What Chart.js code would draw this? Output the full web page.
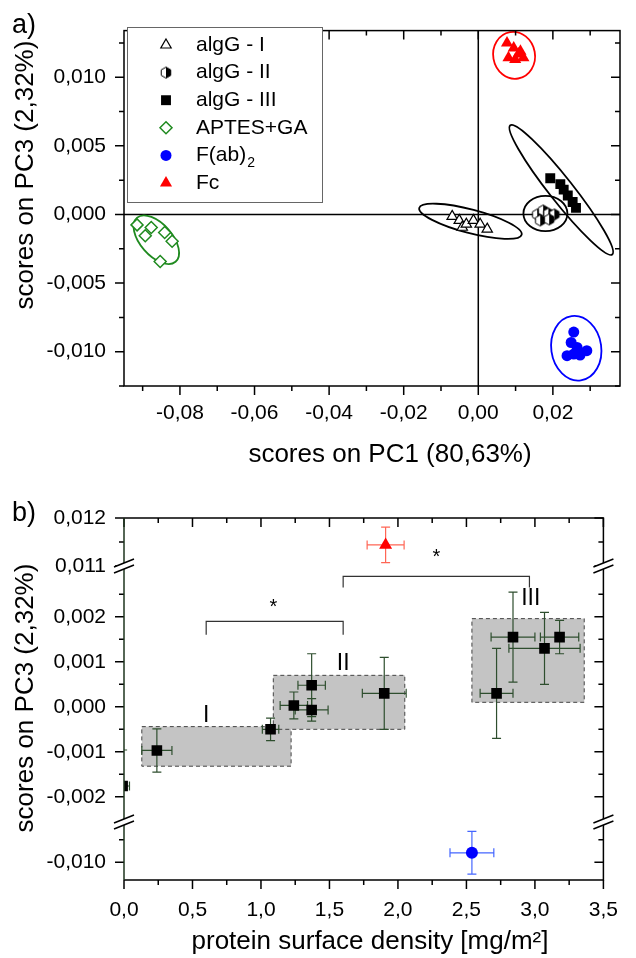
<!DOCTYPE html>
<html>
<head>
<meta charset="utf-8">
<script src="https://cdn.jsdelivr.net/npm/chart.js@4.4.0/dist/chart.umd.min.js"></script>
<style>
  body { margin: 0; background: #fff; }
  #wrap { position: relative; width: 636px; height: 958px; }
  canvas { position: absolute; left: 0; }
  #pca { top: 0; }
  #dens { top: 480px; }
</style>
</head>
<body>
<div id="wrap">
  <canvas id="pca" width="636" height="480"></canvas>
  <canvas id="dens" width="636" height="478"></canvas>
</div>
<script>
// ---- a) PCA scores, PC1 vs PC3 ----
const algG1X = [-0.0070, -0.0051, -0.0043, -0.0032, -0.0013, 0.0005, 0.0024];
const algG1Y = [-0.00014, -0.00043, -0.00093, -0.00071, -0.00043, -0.00071, -0.00107];
const algG2X = [0.0158, 0.0174, 0.0188, 0.0204, 0.0166, 0.0190];
const algG2Y = [0.0000, 0.00029, 0.00007, 0.0000, -0.00043, -0.00036];
const algG3X = [0.0193, 0.0220, 0.0229, 0.0240, 0.0253, 0.0262];
const algG3Y = [0.00264, 0.00221, 0.00181, 0.00138, 0.00091, 0.00048];
const aptesX = [-0.0915, -0.0877, -0.0893, -0.0841, -0.0821, -0.0853];
const aptesY = [-0.00076, -0.00095, -0.00155, -0.00131, -0.00195, -0.00343];
const fabX = [0.0256, 0.0249, 0.0265, 0.0291, 0.0238, 0.0273, 0.0256];
const fabY = [-0.00857, -0.00933, -0.00969, -0.00993, -0.01029, -0.01024, -0.01017];
const fcX = [0.0077, 0.0095, 0.0108, 0.0081, 0.0099, 0.0121, 0.0113];
const fcY = [0.01250, 0.01214, 0.0117, 0.01142, 0.0113, 0.01142, 0.0119];

// confidence ellipses: centre x, centre y, half-axis u (dx, dy), half-axis v (dx, dy)
const ellI = [-0.0021, -0.0005, 0.01373, -0.00098, -0.00083, -0.00083];
const ellII = [0.0180, 0.00007, 0.0059, 0, 0, 0.00129];
const ellIII = [0.02225, 0.00179, 0.01367, -0.00471, 0.00255, 0.00052];
const ellAptes = [-0.08633, -0.00184, 0.00515, -0.00161, 0.00327, 0.00074];
const ellFab = [0.02627, -0.00975, 0.00664, 0.00025, 0.00123, -0.00234];
const ellFc = [0.0096, 0.01160, 0.00552, 0.00026, 0.0011, -0.00169];

const pcaXMajor = [-0.08, -0.06, -0.04, -0.02, 0, 0.02];
const pcaXMinor = [-0.09, -0.07, -0.05, -0.03, -0.01, 0.01, 0.03];
const pcaYMajor = [-0.010, -0.005, 0, 0.005, 0.010];
const pcaYMinor = [-0.0125, -0.0075, -0.0025, 0.0025, 0.0075, 0.0125];

// ---- b) PC3 score vs protein surface density ----
const densX = [-0.01, 0.24, 1.07, 1.24, 1.37, 1.37, 1.90, 2.72, 2.84, 3.07, 3.18];
const densY = [-0.00176, -0.00097, -0.0005, 0.00003, 0.00048, -0.00007, 0.0003, 0.0003, 0.00155, 0.0013, 0.00155];
const densXErr = [0.05, 0.11, 0.06, 0.10, 0.10, 0.12, 0.16, 0.12, 0.16, 0.26, 0.14];
const densYErr = [0.0008, 0.00048, 0.00025, 0.0003, 0.0007, 0.00025, 0.0008, 0.001, 0.001, 0.0008, 0.00037];
const fcDensX = [1.91], fcDensY = [0.01144], fcDensXErr = [0.135], fcDensYErr = [0.00037];
const fabDensX = [2.54], fabDensY = [-0.00979], fabDensXErr = [0.16], fabDensYErr = [0.00048];

const groupNames = ['I', 'II', 'III'];
const boxX1 = [0.13, 1.09, 2.54];
const boxX2 = [1.22, 2.05, 3.36];
const boxY1 = [-0.00132, -0.0005, 0.0001];
const boxY2 = [-0.00044, 0.0007, 0.00196];
const groupLabelX = [0.60, 1.60, 2.97];
const groupLabelY = [-0.0002, 0.00095, 0.0024];
const bracketX1 = [0.6, 1.6], bracketX2 = [1.6, 2.96];
const bracketY = [0.0019, 0.0029], bracketEndY = [0.0016, 0.00265];
const starX = [1.09, 2.28], starY = [0.0023, 0.0034];

const densXMajor = [0, 0.5, 1, 1.5, 2, 2.5, 3, 3.5];
const densXMinor = [0.25, 0.75, 1.25, 1.75, 2.25, 2.75, 3.25];
const topMajor = [0.011, 0.012], topMinor = [0.0115];
const midMajor = [-0.002, -0.001, 0, 0.001, 0.002], midMinor = [-0.0015, -0.0005, 0.0005, 0.0015, 0.0025];
const botMajor = [-0.010], botMinor = [-0.0095];

const FONT = '"Liberation Sans", Arial, sans-serif';
Chart.defaults.font.family = FONT;
Chart.defaults.color = '#000';

function pts(xs, ys) { return xs.map((v, i) => ({ x: v, y: ys[i] })); }
function fmt(v, d) { let r = Number(v.toFixed(d)); if (r === 0) r = 0; return r.toFixed(d).replace('.', ','); }
function mkTicks(major, minor) {
  return major.map(v => ({ value: v, isMajor: true }))
    .concat(minor.map(v => ({ value: v, isMajor: false })))
    .sort((a, b) => a.value - b.value);
}
function labelCb(d) { return function (v, i, t) { return t[i].isMajor ? fmt(v, d) : ''; }; }

// half filled hexagon marker (algG - II)
function halfHex(r) {
  const c = document.createElement('canvas');
  const s = Math.ceil(2 * r + 3); c.width = s; c.height = s;
  const g = c.getContext('2d'), cx = s / 2, cy = s / 2, w = r * Math.cos(Math.PI / 6);
  const p = [[cx, cy - r], [cx + w, cy - r / 2], [cx + w, cy + r / 2], [cx, cy + r], [cx - w, cy + r / 2], [cx - w, cy - r / 2]];
  g.beginPath(); p.forEach((q, k) => k ? g.lineTo(q[0], q[1]) : g.moveTo(q[0], q[1])); g.closePath();
  g.fillStyle = '#fff'; g.fill();
  g.beginPath(); [0, 1, 2, 3].forEach(k => k ? g.lineTo(p[k][0], p[k][1]) : g.moveTo(p[k][0], p[k][1])); g.closePath();
  g.fillStyle = '#000'; g.fill();
  g.beginPath(); p.forEach((q, k) => k ? g.lineTo(q[0], q[1]) : g.moveTo(q[0], q[1])); g.closePath();
  g.strokeStyle = '#000'; g.lineWidth = 1; g.stroke();
  return c;
}
const hexImg = halfHex(5.5);

function marker(ctx, style, x, y, r, fill, stroke, lw) {
  if (style instanceof HTMLCanvasElement) { ctx.drawImage(style, x - style.width / 2, y - style.height / 2); return; }
  ctx.beginPath();
  if (style === 'triangle') {
    ctx.moveTo(x, y - r); ctx.lineTo(x + r * 0.866, y + r / 2); ctx.lineTo(x - r * 0.866, y + r / 2); ctx.closePath();
  } else if (style === 'rect') {
    const h = r * Math.SQRT1_2; ctx.rect(x - h, y - h, 2 * h, 2 * h);
  } else if (style === 'rectRot') {
    ctx.moveTo(x, y - r); ctx.lineTo(x + r, y); ctx.lineTo(x, y + r); ctx.lineTo(x - r, y); ctx.closePath();
  } else {
    ctx.arc(x, y, r, 0, Math.PI * 2);
  }
  ctx.fillStyle = fill; ctx.fill();
  if (lw > 0) { ctx.strokeStyle = stroke; ctx.lineWidth = lw; ctx.stroke(); }
}

function drawEllipse(ctx, xs, ys, e, color) {
  const cx = xs.getPixelForValue(e[0]), cy = ys.getPixelForValue(e[1]);
  const ux = xs.getPixelForValue(e[0] + e[2]) - cx, uy = ys.getPixelForValue(e[1] + e[3]) - cy;
  const vx = xs.getPixelForValue(e[0] + e[4]) - cx, vy = ys.getPixelForValue(e[1] + e[5]) - cy;
  ctx.save();
  ctx.beginPath();
  ctx.transform(ux, uy, vx, vy, cx, cy);
  ctx.arc(0, 0, 1, 0, Math.PI * 2);
  ctx.restore();
  ctx.strokeStyle = color; ctx.lineWidth = 1.8; ctx.stroke();
}

function tickMarks(ctx, scale, area, side) {
  ctx.beginPath();
  for (const t of scale.ticks) {
    const len = t.isMajor ? 9 : 5;
    const p = scale.getPixelForValue(t.value);
    if (side === 'left') { ctx.moveTo(area.left - len, p); ctx.lineTo(area.left, p); }
    if (side === 'right') { ctx.moveTo(area.right - len, p); ctx.lineTo(area.right, p); }
    if (side === 'bottom') { ctx.moveTo(p, area.bottom); ctx.lineTo(p, area.bottom + len); }
    if (side === 'top') { ctx.moveTo(p, area.top); ctx.lineTo(p, area.top + len); }
  }
  ctx.stroke();
}

function rotTitle(ctx, text, x, y) {
  ctx.save(); ctx.translate(x, y); ctx.rotate(-Math.PI / 2);
  ctx.font = '26px ' + FONT; ctx.textAlign = 'center'; ctx.textBaseline = 'middle'; ctx.fillStyle = '#000';
  ctx.fillText(text, 0, 0); ctx.restore();
}

const pcaDecor = {
  id: 'pcaDecor',
  beforeDatasetsDraw(chart) {
    const { ctx, chartArea: a, scales: { x, y } } = chart;
    ctx.save();
    ctx.strokeStyle = '#000'; ctx.lineWidth = 1.5;
    const x0 = x.getPixelForValue(0), y0 = y.getPixelForValue(0);
    ctx.beginPath(); ctx.moveTo(x0, a.top); ctx.lineTo(x0, a.bottom); ctx.moveTo(a.left, y0); ctx.lineTo(a.right, y0); ctx.stroke();
    chart.data.datasets.forEach(ds => drawEllipse(ctx, x, y, ds.ellipse, ds.ellipseColor));
    ctx.restore();
  },
  afterDraw(chart) {
    const { ctx, chartArea: a, scales: { x, y } } = chart;
    ctx.save();
    ctx.strokeStyle = '#000'; ctx.lineWidth = 1.5;
    ctx.strokeRect(a.left, a.top, a.right - a.left, a.bottom - a.top);
    tickMarks(ctx, x, a, 'bottom'); tickMarks(ctx, x, a, 'top');
    tickMarks(ctx, y, a, 'left'); tickMarks(ctx, y, a, 'right');
    // legend
    ctx.fillStyle = '#fff'; ctx.fillRect(127.5, 27.5, 195, 175);
    ctx.strokeStyle = '#666'; ctx.lineWidth = 1; ctx.strokeRect(127.5, 27.5, 195, 175);
    chart.data.datasets.forEach((ds, i) => {
      const ly = 45 + i * 27.6;
      marker(ctx, ds.pointStyle, 166, ly, ds.pointRadius, ds.pointBackgroundColor, ds.pointBorderColor, ds.pointBorderWidth);
      ctx.fillStyle = '#000'; ctx.font = '21px ' + FONT; ctx.textAlign = 'left'; ctx.textBaseline = 'middle';
      if (ds.subscript) {
        const main = ds.label.slice(0, -1);
        ctx.fillText(main, 196, ly);
        const w = ctx.measureText(main).width;
        ctx.font = '14px ' + FONT; ctx.fillText(ds.label.slice(-1), 196 + w + 1, ly + 8);
      } else {
        ctx.fillText(ds.label, 196, ly);
      }
    });
    ctx.fillStyle = '#000'; ctx.font = '26px ' + FONT; ctx.textAlign = 'center'; ctx.textBaseline = 'middle';
    ctx.fillText('scores on PC1 (80,63%)', 390, 455);
    rotTitle(ctx, 'scores on PC3 (2,32%)', 26, 175);
    ctx.font = '27px ' + FONT; ctx.textAlign = 'left';
    ctx.fillText('a)', 12, 26);
    ctx.restore();
  }
};

const tickFont = { family: FONT, size: 21 };

new Chart(document.getElementById('pca'), {
  type: 'scatter',
  data: {
    datasets: [
      { label: 'algG - I', data: pts(algG1X, algG1Y), pointStyle: 'triangle', pointRadius: 6, pointBackgroundColor: '#fff', pointBorderColor: '#000', pointBorderWidth: 1.2, ellipse: ellI, ellipseColor: '#000' },
      { label: 'algG - II', data: pts(algG2X, algG2Y), pointStyle: hexImg, pointRadius: 6, pointBackgroundColor: '#000', pointBorderColor: '#000', pointBorderWidth: 1, ellipse: ellII, ellipseColor: '#000' },
      { label: 'algG - III', data: pts(algG3X, algG3Y), pointStyle: 'rect', pointRadius: 7, pointBackgroundColor: '#000', pointBorderColor: '#000', pointBorderWidth: 0, ellipse: ellIII, ellipseColor: '#000' },
      { label: 'APTES+GA', data: pts(aptesX, aptesY), pointStyle: 'rectRot', pointRadius: 6, pointBackgroundColor: '#fff', pointBorderColor: '#1f8a1f', pointBorderWidth: 1.5, ellipse: ellAptes, ellipseColor: '#1f8a1f' },
      { label: 'F(ab)2', subscript: true, data: pts(fabX, fabY), pointStyle: 'circle', pointRadius: 5.5, pointBackgroundColor: '#0000ff', pointBorderColor: '#0000ff', pointBorderWidth: 0, ellipse: ellFab, ellipseColor: '#0000ff' },
      { label: 'Fc', data: pts(fcX, fcY), pointStyle: 'triangle', pointRadius: 7, pointBackgroundColor: '#ff0000', pointBorderColor: '#ff0000', pointBorderWidth: 0, ellipse: ellFc, ellipseColor: '#ff0000' }
    ]
  },
  options: {
    responsive: false, animation: false, events: [],
    layout: { padding: { top: 23, right: 16, left: 0, bottom: 0 } },
    plugins: { legend: { display: false }, tooltip: { enabled: false } },
    scales: {
      x: {
        type: 'linear', min: -0.095, max: 0.038,
        grid: { display: false, drawTicks: false }, border: { display: false },
        afterBuildTicks: s => { s.ticks = mkTicks(pcaXMajor, pcaXMinor); },
        afterFit: s => { s.height = 94; },
        ticks: { autoSkip: false, maxRotation: 0, padding: 15, font: tickFont, color: '#000', callback: labelCb(2) }
      },
      y: {
        type: 'linear', min: -0.0125, max: 0.0134,
        grid: { display: false, drawTicks: false }, border: { display: false },
        afterBuildTicks: s => { s.ticks = mkTicks(pcaYMajor, pcaYMinor); },
        afterFit: s => { s.width = 124; },
        ticks: { autoSkip: false, padding: 18, font: tickFont, color: '#000', callback: labelCb(3) }
      }
    }
  },
  plugins: [pcaDecor]
});

function breakMark(ctx, x, y) {
  ctx.save();
  ctx.fillStyle = '#fff';
  ctx.beginPath();
  ctx.moveTo(x - 10, y + 1); ctx.lineTo(x + 10, y - 7); ctx.lineTo(x + 10, y - 1); ctx.lineTo(x - 10, y + 7); ctx.closePath();
  ctx.fill();
  ctx.strokeStyle = '#000'; ctx.lineWidth = 1.5;
  ctx.beginPath();
  ctx.moveTo(x - 10, y + 1); ctx.lineTo(x + 10, y - 7);
  ctx.moveTo(x - 10, y + 7); ctx.lineTo(x + 10, y - 1);
  ctx.stroke();
  ctx.restore();
}

const densDecor = {
  id: 'densDecor',
  beforeDatasetsDraw(chart) {
    const { ctx, chartArea: a, scales } = chart;
    const x = scales.x, ym = scales.yMid;
    ctx.save();
    ctx.beginPath(); ctx.rect(a.left, a.top, a.right - a.left, a.bottom - a.top); ctx.clip();
    for (let i = 0; i < boxX1.length; i++) {
      const l = x.getPixelForValue(boxX1[i]), r = x.getPixelForValue(boxX2[i]);
      const t = ym.getPixelForValue(boxY2[i]), b = ym.getPixelForValue(boxY1[i]);
      ctx.fillStyle = '#c4c4c4'; ctx.fillRect(l, t, r - l, b - t);
      ctx.setLineDash([4, 3]); ctx.strokeStyle = '#444'; ctx.lineWidth = 1;
      ctx.strokeRect(l, t, r - l, b - t); ctx.setLineDash([]);
    }
    chart.data.datasets.forEach(ds => {
      const ys = scales[ds.yAxisID];
      ctx.strokeStyle = ds.errColor; ctx.lineWidth = 1.2;
      ds.data.forEach((p, i) => {
        const px = x.getPixelForValue(p.x), py = ys.getPixelForValue(p.y);
        const xl = x.getPixelForValue(p.x - ds.xErr[i]), xr = x.getPixelForValue(p.x + ds.xErr[i]);
        const yt = ys.getPixelForValue(p.y + ds.yErr[i]), yb = ys.getPixelForValue(p.y - ds.yErr[i]);
        ctx.beginPath();
        ctx.moveTo(xl, py); ctx.lineTo(xr, py);
        ctx.moveTo(xl, py - 4.5); ctx.lineTo(xl, py + 4.5);
        ctx.moveTo(xr, py - 4.5); ctx.lineTo(xr, py + 4.5);
        ctx.moveTo(px, yt); ctx.lineTo(px, yb);
        ctx.moveTo(px - 4.5, yt); ctx.lineTo(px + 4.5, yt);
        ctx.moveTo(px - 4.5, yb); ctx.lineTo(px + 4.5, yb);
        ctx.stroke();
      });
    });
    ctx.strokeStyle = '#333'; ctx.lineWidth = 1.2;
    for (let i = 0; i < bracketX1.length; i++) {
      const l = x.getPixelForValue(bracketX1[i]), r = x.getPixelForValue(bracketX2[i]);
      const t = ym.getPixelForValue(bracketY[i]), b = ym.getPixelForValue(bracketEndY[i]);
      ctx.beginPath(); ctx.moveTo(l, b); ctx.lineTo(l, t); ctx.lineTo(r, t); ctx.lineTo(r, b); ctx.stroke();
    }
    ctx.restore();
  },
  afterDraw(chart) {
    const { ctx, chartArea: a, scales } = chart;
    const x = scales.x, ym = scales.yMid;
    ctx.save();
    ctx.strokeStyle = '#000'; ctx.lineWidth = 1.5;
    ctx.beginPath(); ctx.moveTo(a.left, a.top); ctx.lineTo(a.right, a.top); ctx.lineTo(a.right, a.bottom); ctx.lineTo(a.left, a.bottom); ctx.stroke();
    tickMarks(ctx, x, a, 'bottom'); tickMarks(ctx, x, a, 'top');
    ['yTop', 'yMid', 'yBot'].forEach(id => { tickMarks(ctx, scales[id], a, 'left'); tickMarks(ctx, scales[id], a, 'right'); });
    ctx.strokeStyle = '#1e341e';
    ctx.beginPath(); ctx.moveTo(a.left, a.top); ctx.lineTo(a.left, a.bottom); ctx.stroke();
    [scales.yTop.bottom, scales.yMid.bottom].forEach(by => { breakMark(ctx, a.left, by); breakMark(ctx, a.right, by); });
    ctx.fillStyle = '#000'; ctx.textAlign = 'center'; ctx.textBaseline = 'middle';
    ctx.font = '23px ' + FONT;
    groupNames.forEach((n, i) => ctx.fillText(n, x.getPixelForValue(groupLabelX[i]), ym.getPixelForValue(groupLabelY[i])));
    ctx.font = '20px ' + FONT;
    starX.forEach((sx, i) => ctx.fillText('*', x.getPixelForValue(sx), ym.getPixelForValue(starY[i]) + 4));
    ctx.font = '26px ' + FONT;
    ctx.fillText('protein surface density [mg/m\u00B2]', 370, 462);
    rotTitle(ctx, 'scores on PC3 (2,32%)', 26, 218);
    ctx.font = '27px ' + FONT; ctx.textAlign = 'left';
    ctx.fillText('b)', 12, 34);
    ctx.restore();
  }
};

function yStack(id, min, max, weight, order, major, minor) {
  return {
    type: 'linear', position: 'left', stack: 'pc3', stackWeight: weight, weight: order,
    min: min, max: max,
    grid: { display: false, drawTicks: false }, border: { display: false },
    afterBuildTicks: s => { s.ticks = mkTicks(major, minor); },
    afterFit: s => { s.width = 124; },
    ticks: { autoSkip: false, padding: 18, font: tickFont, color: '#000', callback: labelCb(3) }
  };
}

new Chart(document.getElementById('dens'), {
  type: 'scatter',
  data: {
    datasets: [
      { label: 'algG', data: pts(densX, densY), yAxisID: 'yMid', xErr: densXErr, yErr: densYErr, errColor: '#2e4e2e', pointStyle: 'rect', pointRadius: 7.5, pointBackgroundColor: '#000', pointBorderWidth: 0, clip: 0 },
      { label: 'Fc', data: pts(fcDensX, fcDensY), yAxisID: 'yTop', xErr: fcDensXErr, yErr: fcDensYErr, errColor: '#ff6655', pointStyle: 'triangle', pointRadius: 7.5, pointBackgroundColor: '#ff0000', pointBorderWidth: 0, clip: 0 },
      { label: 'F(ab)2', data: pts(fabDensX, fabDensY), yAxisID: 'yBot', xErr: fabDensXErr, yErr: fabDensYErr, errColor: '#4466ff', pointStyle: 'circle', pointRadius: 6, pointBackgroundColor: '#0000ff', pointBorderWidth: 0, clip: 0 }
    ]
  },
  options: {
    responsive: false, animation: false, events: [],
    layout: { padding: { top: 38, right: 16, left: 0, bottom: 0 } },
    plugins: { legend: { display: false }, tooltip: { enabled: false } },
    scales: {
      x: {
        type: 'linear', min: 0, max: 3.5,
        grid: { display: false, drawTicks: false }, border: { display: false },
        afterBuildTicks: s => { s.ticks = mkTicks(densXMajor, densXMinor); },
        afterFit: s => { s.height = 78; },
        ticks: { autoSkip: false, maxRotation: 0, padding: 18, font: tickFont, color: '#000', callback: labelCb(1) }
      },
      yTop: yStack('yTop', 0.011, 0.012, 48, 3, topMajor, topMinor),
      yMid: yStack('yMid', -0.00256, 0.00313, 256, 2, midMajor, midMinor),
      yBot: yStack('yBot', -0.0104, -0.0091, 58, 1, botMajor, botMinor)
    }
  },
  plugins: [densDecor]
});
</script>
</body>
</html>
